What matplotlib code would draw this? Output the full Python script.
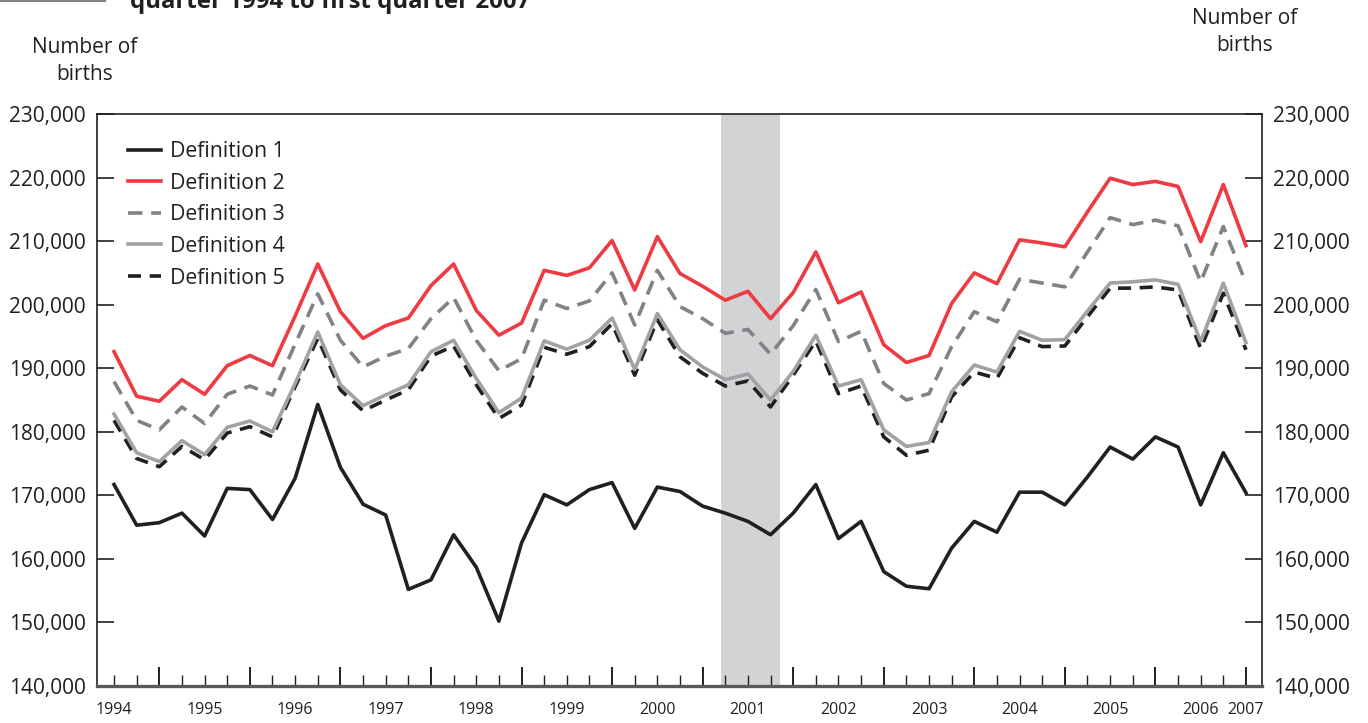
import numpy as np
import pandas as pd
import matplotlib
matplotlib.use("Agg")
import matplotlib.pyplot as plt
import matplotlib.transforms as mtransforms
from matplotlib.lines import Line2D
from matplotlib.ticker import FuncFormatter, MultipleLocator

# quarterly periods shown on the chart
periods = pd.period_range("1994Q3", "2007Q1", freq="Q")

def1 = [171700, 165300, 165700, 167200, 163600, 171100, 170900, 166200, 172700, 184300,
        174400, 168600, 166900, 155200, 156700, 163800, 158700, 150200, 162500, 170100,
        168500, 170900, 172000, 164800, 171300, 170600, 168300, 167200, 165900, 163800,
        167200, 171700, 163200, 165900, 158000, 155700, 155300, 161700, 165900, 164200,
        170500, 170500, 168500, 172900, 177600, 175700, 179200, 177600, 168500, 176700,
        170400]
def2 = [192600, 185600, 184800, 188200, 185900, 190400, 192000, 190400, 198200, 206400,
        198900, 194700, 196700, 197900, 203000, 206400, 199100, 195200, 197100, 205400,
        204600, 205800, 210100, 202300, 210700, 204900, 202900, 200700, 202100, 197800,
        201900, 208300, 200300, 202000, 193700, 190900, 192000, 200200, 205000, 203300,
        210200, 209700, 209100, 214600, 219900, 218900, 219400, 218600, 209900, 218900,
        209300]
def3 = [187900, 181800, 180300, 183900, 181300, 185900, 187200, 185800, 193800, 201700,
        194400, 190200, 191900, 193100, 197800, 201100, 194400, 189600, 191500, 200700,
        199400, 200600, 205000, 196800, 205400, 199700, 197800, 195500, 196100, 192200,
        196700, 202400, 194200, 195800, 187600, 185000, 186000, 193400, 198900, 197300,
        204000, 203400, 202800, 208300, 213700, 212600, 213300, 212400, 203600, 212300,
        203400]
def4 = [182800, 176700, 175300, 178600, 176400, 180700, 181700, 180000, 187600, 195700,
        187400, 184100, 185800, 187400, 192600, 194400, 188400, 183000, 185300, 194300,
        193000, 194400, 197900, 189800, 198600, 192900, 190200, 188200, 189100, 185000,
        189500, 195200, 187200, 188200, 180300, 177700, 178300, 186300, 190500, 189400,
        195800, 194400, 194500, 199000, 203400, 203600, 203900, 203200, 194200, 203400,
        194000]
def5 = [181800, 175800, 174500, 177700, 175600, 179800, 180800, 179200, 187100, 194700,
        186600, 183300, 185000, 186600, 191900, 193500, 187400, 182100, 184200, 193300,
        192200, 193400, 197000, 188900, 197600, 191800, 189200, 187200, 188000, 183900,
        188900, 194300, 186000, 187200, 179200, 176300, 177100, 185500, 189400, 188400,
        194800, 193400, 193500, 198100, 202600, 202600, 202800, 202300, 193100, 201800,
        192900]

labels = ["Definition 1", "Definition 2", "Definition 3", "Definition 4", "Definition 5"]
year_labels = list(range(1994, 2008))
recession = (2001.2, 2001.85)   # March to November 2001

x = periods.year + (periods.quarter - 1) / 4.0

font = ["Open Sans", "DejaVu Sans"]
ink = "#231f20"

fig = plt.figure(figsize=(13.68, 7.23), dpi=100)
ax = fig.add_axes([97 / 1368, 37 / 723, 1165 / 1368, 572 / 723])

ax.axvspan(*recession, color="#d1d3d4", lw=0, zorder=0)

ax.plot(x, def1, color=ink, lw=2.6, label=labels[0], zorder=5)
ax.plot(x, def2, color="#ee3a43", lw=2.6, label=labels[1], zorder=4)
ax.plot(x, def3, color="#808285", lw=2.6, dashes=(4, 2.4), label=labels[2], zorder=3)
ax.plot(x, def4, color="#a0a2a5", lw=2.6, label=labels[3], zorder=2)
ax.plot(x, def5, color=ink, lw=2.6, dashes=(3.6, 2.4), label=labels[4], zorder=1)

ax.set_xlim(1994.312, 2007.177)
ax.set_ylim(140000, 230000)

# y axis: same scale on both sides
ax.yaxis.set_major_locator(MultipleLocator(10000))
ax.yaxis.set_major_formatter(FuncFormatter(lambda v, p: f"{v:,.0f}"))
ax.tick_params(axis="y", direction="in", length=12, width=1.2, color=ink,
               left=True, right=True, labelleft=True, labelright=True, pad=8,
               labelsize=15, labelcolor=ink)
for tick in ax.yaxis.get_major_ticks():
    tick.label1.set_family(font)
    tick.label2.set_family(font)

# x axis: tall ticks at year starts, short ticks every quarter
ax.set_xticks(range(1995, 2008))
ax.set_xticks(x, minor=True)
ax.tick_params(axis="x", which="major", direction="in", length=14, width=1.4,
               color=ink, labelbottom=False)
ax.tick_params(axis="x", which="minor", direction="in", length=8, width=1.0,
               color=ink)

trans = mtransforms.blended_transform_factory(ax.transData, ax.transAxes)
for yr in year_labels:
    xpos = yr + 0.5 if yr < 2007 else 2007.0
    ax.text(xpos, -0.042, str(yr), transform=trans, ha="center", va="center",
            fontsize=11.5, family=font, color=ink)

for s in ax.spines.values():
    s.set_color(ink)
    s.set_linewidth(1.2)
ax.spines["bottom"].set_color("#58595b")
ax.spines["bottom"].set_linewidth(2.4)

leg = ax.legend(loc="upper left", bbox_to_anchor=(31 / 1165, 1 - 27 / 572),
                frameon=False, borderpad=0, borderaxespad=0, handlelength=1.55,
                handletextpad=0.45, labelspacing=0.5,
                prop={"family": font, "size": 15.3})
for t in leg.get_texts():
    t.set_color(ink)

fig.text(85 / 1368, 1 - 61 / 723, "Number of\nbirths", ha="center", va="center",
         fontsize=15, family=font, color=ink, linespacing=1.4)
fig.text(1245 / 1368, 1 - 32 / 723, "Number of\nbirths", ha="center", va="center",
         fontsize=15, family=font, color=ink, linespacing=1.4)

# title is cut off at the top edge, as in the original
fig.text(130 / 1368, 1 - 8 / 723, "quarter 1994 to first quarter 2007",
         fontweight="bold", fontsize=17.3, family=font, va="baseline", color=ink)
fig.add_artist(Line2D([0, 105 / 1368], [1 - 1 / 723, 1 - 1 / 723],
                      transform=fig.transFigure, color="#808285", lw=1.5))

fig.savefig("out.png", dpi=100)
